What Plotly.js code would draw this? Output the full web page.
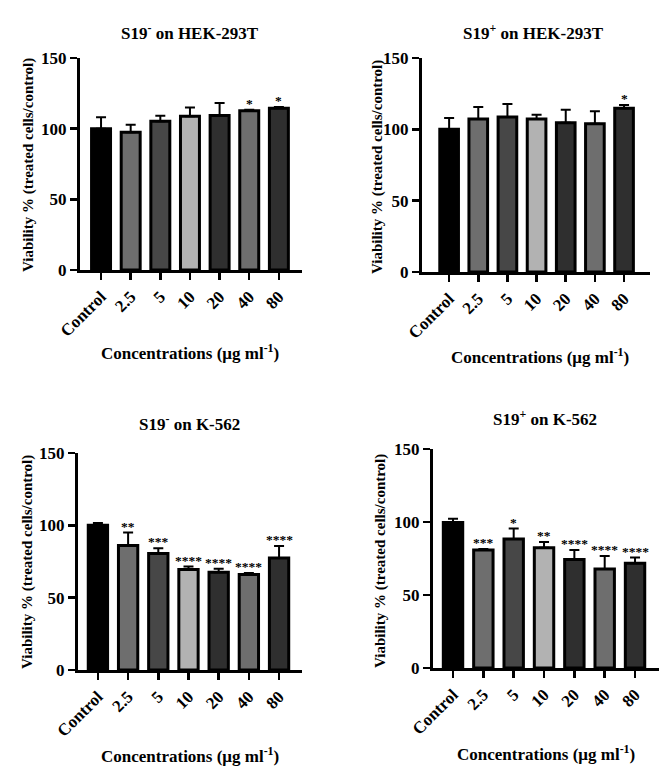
<!DOCTYPE html>
<html>
<head>
<meta charset="utf-8">
<script src="https://cdn.plot.ly/plotly-3.0.1.min.js"></script>
<style>html,body{margin:0;padding:0;background:#fff;}#chart{width:669px;height:778px;}</style>
</head>
<body>
<div id="chart"></div>
<script>
// ---- data ----
var categories = ["Control", "2.5", "5", "10", "20", "40", "80"];
var barColors = ["#000000", "#6e6e6e", "#474747", "#b2b2b2", "#2f2f2f", "#6e6e6e", "#2f2f2f"];

var titles = ["S19<sup>-</sup> on HEK-293T", "S19<sup>+</sup> on HEK-293T", "S19<sup>-</sup> on K-562", "S19<sup>+</sup> on K-562"];

var hekMinusVals = [100, 97.4, 105.2, 108.7, 109.4, 112.7, 114.4];
var hekMinusErr  = [8.0, 5.4, 4.0, 6.3, 8.8, 0.6, 1.0];
var hekMinusSig  = ["", "", "", "", "", "*", "*"];

var hekPlusVals = [100, 107.3, 108.7, 107.3, 104.7, 104.0, 114.8];
var hekPlusErr  = [8.0, 8.4, 9.1, 3.0, 9.1, 8.7, 2.3];
var hekPlusSig  = ["", "", "", "", "", "", "*"];

var kMinusVals = [100, 86.0, 80.5, 69.5, 67.6, 66.0, 77.5];
var kMinusErr  = [1.6, 9.0, 3.7, 2.0, 2.4, 1.0, 8.3];
var kMinusSig  = ["", "**", "***", "****", "****", "****", "****"];

var kPlusVals = [99.6, 80.8, 88.4, 82.4, 74.4, 67.8, 71.7];
var kPlusErr  = [2.7, 0.7, 7.1, 3.9, 6.4, 8.9, 3.9];
var kPlusSig  = ["", "***", "*", "**", "****", "****", "****"];

var yTickVals = [0, 50, 100, 150];
var xTitle = "Concentrations (μg ml<sup>-1</sup>)";
var yTitle = "Viability % (treated cells/control)";

// ---- layout geometry (px in a 669x778 page) ----
var W = 669, H = 778;
var panels = [
  {vals: hekMinusVals, err: hekMinusErr, sig: hekMinusSig, x0: 80, x1: 302, yTop: 58, yBot: 270, range: [-0.71, 6.78],
   title: [190, 32], xt: [190, 352], yt: [28, 165]},
  {vals: hekPlusVals, err: hekPlusErr, sig: hekPlusSig, x0: 422, x1: 650, yTop: 58, yBot: 272, range: [-0.93, 6.89],
   title: [533, 32], xt: [540, 356], yt: [378, 167]},
  {vals: kMinusVals, err: kMinusErr, sig: kMinusSig, x0: 78, x1: 302, yTop: 453, yBot: 670, range: [-0.66, 6.76],
   title: [189, 423], xt: [190, 755], yt: [28, 562]},
  {vals: kPlusVals, err: kPlusErr, sig: kPlusSig, x0: 433, x1: 659, yTop: 449, yBot: 668, range: [-0.66, 6.79],
   title: [545, 418], xt: [546, 753], yt: [380, 561]}
];

var FONT = "Liberation Serif";
function f(size) { return {family: FONT, size: size, weight: 700, color: "#000"}; }
var traces = [];
var layout = {
  width: W, height: H,
  margin: {l: 0, r: 0, t: 0, b: 0},
  paper_bgcolor: "#ffffff", plot_bgcolor: "#ffffff",
  showlegend: false,
  font: f(16),
  annotations: [],
  bargap: 0
};

panels.forEach(function (p, i) {
  var n = i === 0 ? "" : String(i + 1);
  var xa = "x" + n, ya = "y" + n;
  traces.push({
    type: "bar",
    x: categories,
    y: p.vals,
    xaxis: xa, yaxis: ya,
    width: 0.64,
    marker: {color: barColors, line: {color: "#000", width: 3}},
    error_y: {type: "data", symmetric: false, array: p.err, arrayminus: p.err.map(function () { return 0; }),
              color: "#000", thickness: 2, width: 5},
    hoverinfo: "x+y"
  });
  layout["xaxis" + n] = {
    type: "category",
    domain: [p.x0 / W, p.x1 / W],
    anchor: ya,
    range: p.range,
    showgrid: false, zeroline: false,
    showline: true, linecolor: "#000", linewidth: 3,
    ticks: "outside", ticklen: 7, tickwidth: 2.5, tickcolor: "#000",
    tickangle: -45,
    tickfont: f(17),
    fixedrange: true
  };
  layout["yaxis" + n] = {
    domain: [(H - p.yBot) / H, (H - p.yTop) / H],
    anchor: xa,
    range: [0, 150],
    tickvals: yTickVals,
    showgrid: false, zeroline: false,
    showline: true, linecolor: "#000", linewidth: 3,
    ticks: "outside", ticklen: 7, tickwidth: 2.5, tickcolor: "#000",
    tickfont: f(17),
    fixedrange: true
  };
  layout.annotations.push({
    xref: "paper", yref: "paper", x: p.title[0] / W, y: (H - p.title[1]) / H,
    xanchor: "center", yanchor: "middle", showarrow: false,
    text: "<b>" + titles[i] + "</b>", font: f(17)
  });
  layout.annotations.push({
    xref: "paper", yref: "paper", x: p.xt[0] / W, y: (H - p.xt[1]) / H,
    xanchor: "center", yanchor: "middle", showarrow: false,
    text: "<b>" + xTitle + "</b>", font: f(17)
  });
  layout.annotations.push({
    xref: "paper", yref: "paper", x: p.yt[0] / W, y: (H - p.yt[1]) / H,
    xanchor: "center", yanchor: "middle", showarrow: false, textangle: -90,
    text: "<b>" + yTitle + "</b>", font: f(15)
  });
  p.sig.forEach(function (s, k) {
    if (!s) return;
    layout.annotations.push({
      xref: xa, yref: ya, x: k, y: p.vals[k] + p.err[k],
      xanchor: "center", yanchor: "bottom", showarrow: false, yshift: -3,
      text: "<b>" + s + "</b>", font: f(13.5)
    });
  });
});

Plotly.newPlot("chart", traces, layout, {staticPlot: true, displayModeBar: false});
</script>
</body>
</html>
